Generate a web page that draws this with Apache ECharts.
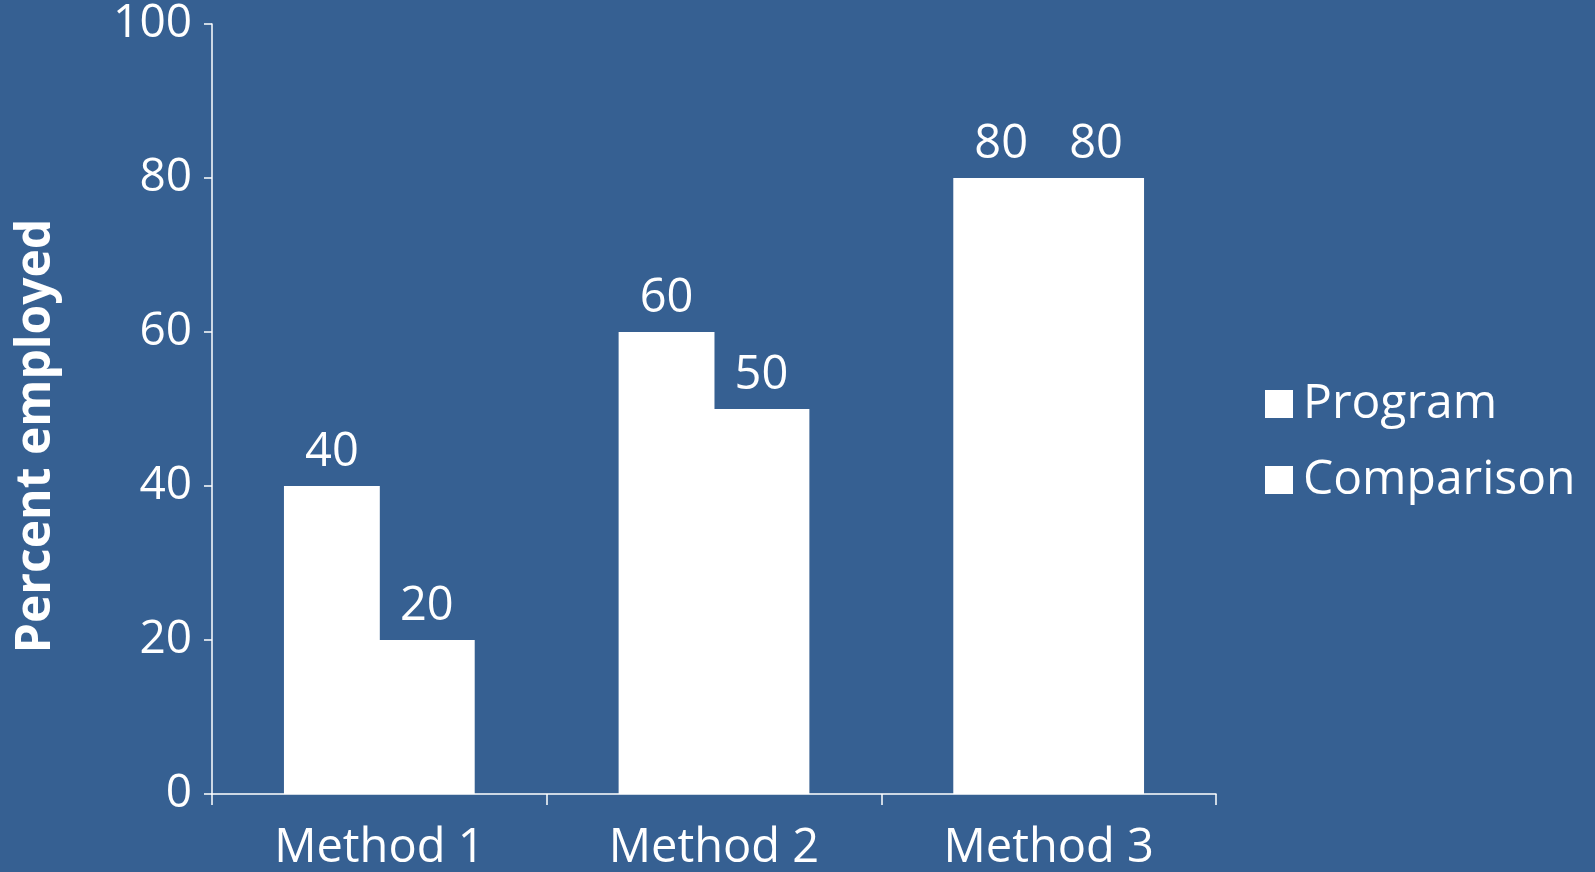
<!DOCTYPE html>
<html><head><meta charset="utf-8">
<style>html,body{margin:0;padding:0;background:#366092;}#c{width:1595px;height:872px;}</style>
<script src="https://cdn.jsdelivr.net/npm/echarts@6/dist/echarts.min.js"></script>
</head><body><div id="c"></div>
<script>
const categories = ['Method 1', 'Method 2', 'Method 3'];
const programValues = [40, 60, 80];
const comparisonValues = [20, 50, 80];
const seriesNames = ['Program', 'Comparison'];
const yTicks = [0, 20, 40, 60, 80, 100];
const yTitle = 'Percent employed';

const FONT = '"Open Sans", "Noto Sans", sans-serif';
const chart = echarts.init(document.getElementById('c'));
const labelStyle = {show: true, position: 'top', color: '#fff', fontSize: 47, fontFamily: FONT, distance: 10};
chart.setOption({
  backgroundColor: '#366092',
  animation: false,
  textStyle: {fontFamily: FONT},
  grid: {left: 212, right: 379, top: 24, bottom: 74, containLabel: false},
  legend: {
    orient: 'vertical', left: 1260, top: 375, itemWidth: 28, itemHeight: 28, itemGap: 28,
    icon: 'rect',
    textStyle: {color: '#fff', fontSize: 48, fontFamily: FONT, padding: [0, 0, 0, 5]},
    data: seriesNames
  },
  graphic: [{
    type: 'text', x: 12, y: 436, rotation: Math.PI / 2, originX: 0, originY: 0,
    style: {text: yTitle, fill: '#fff', font: 'bold 48px ' + FONT, textAlign: 'center', textVerticalAlign: 'top'}
  }],
  xAxis: {
    type: 'category', data: categories,
    axisLine: {lineStyle: {color: '#fff', width: 1.5}},
    axisTick: {show: true, length: 11, lineStyle: {color: '#fff', width: 1.5}},
    axisLabel: {color: '#fff', fontSize: 47, fontFamily: FONT, margin: 31}
  },
  yAxis: {
    type: 'value', min: 0, max: 100, interval: 20,
    axisLine: {show: true, lineStyle: {color: '#fff', width: 1.5}},
    axisTick: {show: true, length: 8, lineStyle: {color: '#fff', width: 1.5}},
    splitLine: {show: false},
    axisLabel: {color: '#fff', fontSize: 46, fontFamily: FONT, margin: 20,
      formatter: v => yTicks.includes(v) ? String(v) : ''}
  },
  series: [
    {name: seriesNames[0], type: 'bar', data: programValues, barGap: '-1%', barCategoryGap: '43%',
     itemStyle: {color: '#ffffff'}, label: labelStyle},
    {name: seriesNames[1], type: 'bar', data: comparisonValues, barGap: '-1%', barCategoryGap: '43%',
     itemStyle: {color: '#ffffff'}, label: labelStyle}
  ]
});
</script></body></html>
